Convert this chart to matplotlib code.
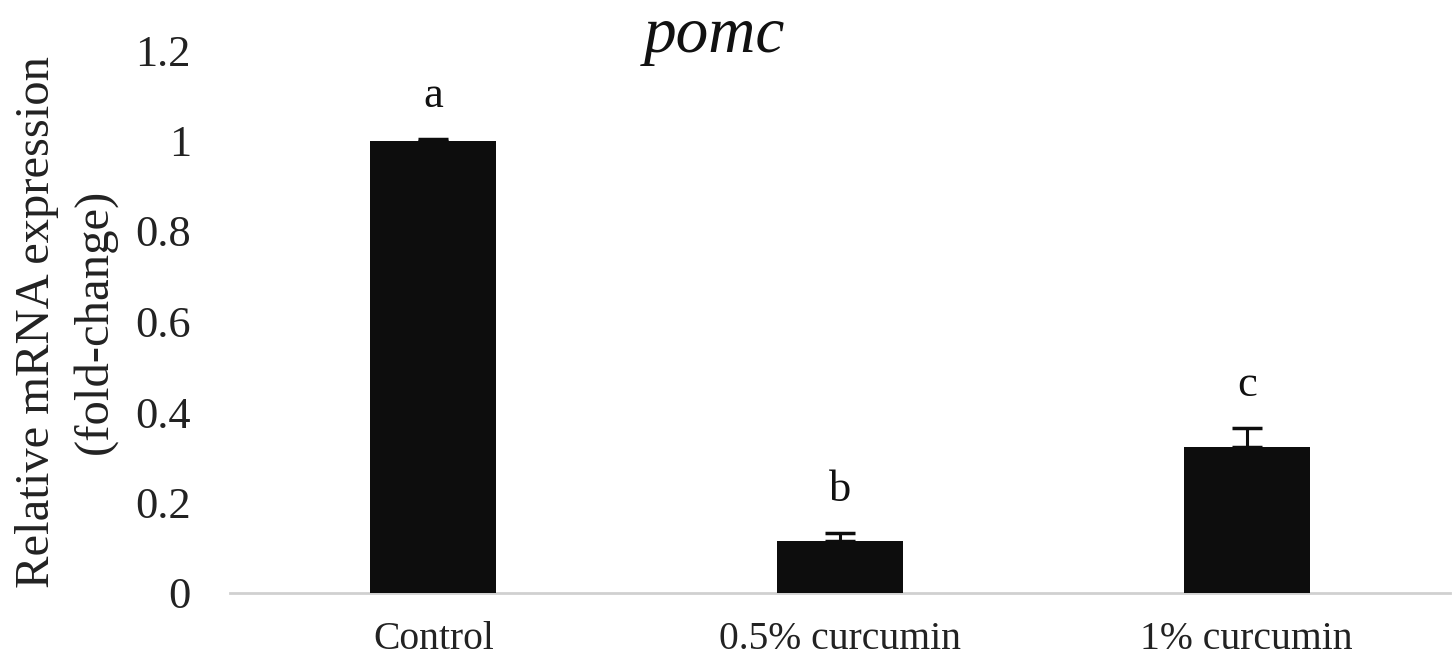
import matplotlib
matplotlib.use("Agg")
import matplotlib.pyplot as plt

categories = ["Control", "0.5% curcumin", "1% curcumin"]
values = [1.0, 0.115, 0.323]
errors = [0.004, 0.018, 0.042]
letters = ["a", "b", "c"]
yticks = [0, 0.2, 0.4, 0.6, 0.8, 1, 1.2]
ytick_labels = ["0", "0.2", "0.4", "0.6", "0.8", "1", "1.2"]

plt.rcParams['font.family'] = ['Liberation Serif', 'DejaVu Serif']

fig = plt.figure(figsize=(14.56, 6.69), dpi=100)
ax = fig.add_axes([230/1456, 1-593/669, 1220/1456, (593-50)/669])

x = list(range(len(categories)))
ax.bar(x, values, width=0.31, color="#0d0d0d", zorder=3)
ax.errorbar(x, values, yerr=[[0]*len(errors), errors], fmt="none",
            ecolor="#0d0d0d", elinewidth=2.2, capsize=11, capthick=2.5, zorder=4)
for xi, v, e, l in zip(x, values, errors, letters):
    ax.text(xi, v + e + 0.095, l, ha="center", va="center", fontsize=32, color="#111111")

ax.set_xlim(-0.5, 2.5)
ax.set_ylim(0, 1.2)
ax.set_yticks(yticks)
ax.set_yticklabels(ytick_labels)
ax.set_xticks(x)
ax.set_xticklabels(categories)
ax.tick_params(axis="y", length=0, pad=28, labelsize=32, colors="#222222")
ax.tick_params(axis="x", length=0, pad=20, labelsize=28.5, colors="#222222")
for s in ["top", "right", "left"]:
    ax.spines[s].set_visible(False)
ax.spines["bottom"].set_color("#d0d0d0")
ax.spines["bottom"].set_linewidth(2)

ax.set_ylabel("Relative mRNA expression\n(fold-change)", fontsize=35, linespacing=1.4,
              color="#222222", ha="center", va="center")
ax.yaxis.set_label_coords((66-230)/1220, 0.5)

fig.text(715/1456, 1-36/669, "pomc", style="italic", fontsize=47, ha="center", va="center",
         color="#111111")

fig.savefig("out.png", dpi=100)
